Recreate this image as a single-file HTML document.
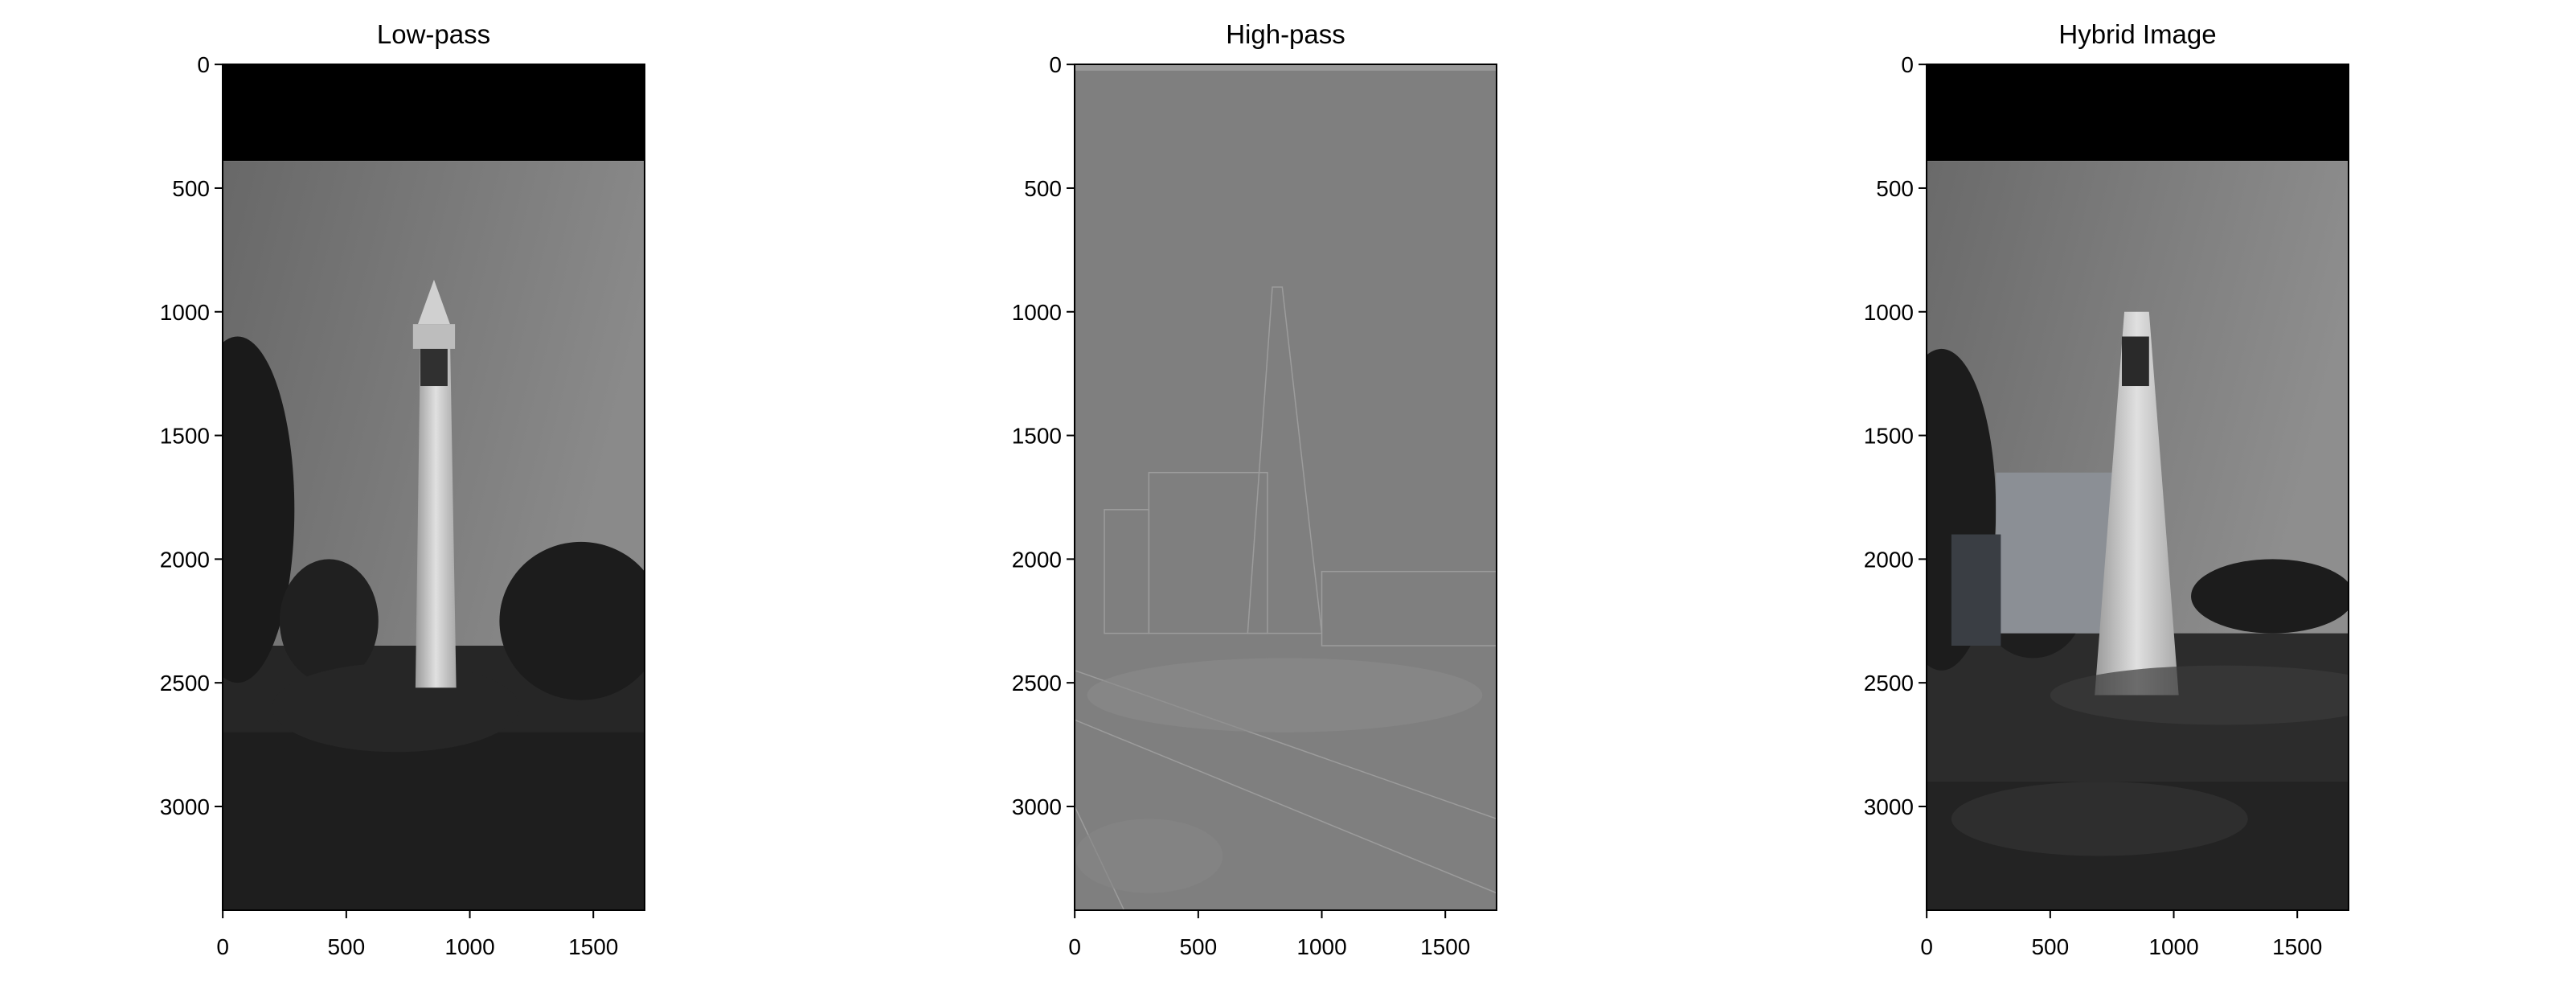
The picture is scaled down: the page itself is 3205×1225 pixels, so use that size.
<!DOCTYPE html>
<html><head><meta charset="utf-8">
<style>
html,body{margin:0;padding:0;background:#fff;}
svg{display:block;font-family:"Liberation Sans","DejaVu Sans",sans-serif;}
</style></head>
<body>
<svg id="fig" width="3205" height="1225" viewBox="0 0 3205 1225" xmlns="http://www.w3.org/2000/svg">
<defs id="defs">
<linearGradient id="sky1" x1="0" y1="0" x2="1" y2="0.3"><stop offset="0" stop-color="#686868"/><stop offset="1" stop-color="#8a8a8a"/></linearGradient>
<linearGradient id="sky3" x1="0" y1="0" x2="1" y2="0.3"><stop offset="0" stop-color="#6a6a6a"/><stop offset="1" stop-color="#8e8e8e"/></linearGradient>
<linearGradient id="tower" x1="0" y1="0" x2="1" y2="0"><stop offset="0" stop-color="#9a9a9a"/><stop offset="0.5" stop-color="#e0e0e0"/><stop offset="1" stop-color="#a8a8a8"/></linearGradient>
</defs>
<g id="panels"></g>
</svg>
<script>
// image extents (data units) and axis ticks
const imgWidth = 1708;
const imgHeight = 3420;
const xTicks = [0, 500, 1000, 1500];
const yTicks = [0, 500, 1000, 1500, 2000, 2500, 3000];
const titles = ["Low-pass", "High-pass", "Hybrid Image"];
const panelLefts = [277, 1337, 2397];
const axTop = 80, axW = 525, axH = 1052;

const NS = "http://www.w3.org/2000/svg";
const root = document.getElementById("panels");
const defs = document.getElementById("defs");
function mk(tag, attrs, parent){ const e=document.createElementNS(NS,tag); for(const k in attrs) e.setAttribute(k,attrs[k]); parent.appendChild(e); return e; }

titles.forEach((t, i) => {
  const L = panelLefts[i];
  const sx = v => L + (v + 0.5) / imgWidth * axW;
  const sy = v => axTop + (v + 0.5) / imgHeight * axH;
  const cp = mk("clipPath", {id:"clip"+i}, defs);
  mk("rect",{x:L,y:axTop,width:axW,height:axH},cp);
  const g = mk("g", {}, root);
  
  
  const img = mk("g", {"clip-path":"url(#clip"+i+")"}, g);
  
  
  const R = (x0,y0,x1,y1,fill,extra) => mk("rect", Object.assign({x:sx(x0), y:sy(y0), width:sx(x1)-sx(x0), height:sy(y1)-sy(y0), fill:fill}, extra||{}), img);
  const E = (cx,cy,rx,ry,fill,op) => mk("ellipse",{cx:sx(cx),cy:sy(cy),rx:rx/imgWidth*axW,ry:ry/imgHeight*axH,fill:fill,opacity:op==null?1:op},img);
  if (i === 0) {
    R(0,0,1708,390,"#000");
    R(0,390,1708,2450,"url(#sky1)");
    R(0,2350,1708,3420,"#262626");
    R(0,2700,1708,3420,"#1e1e1e");
    E(60,1800,230,700,"#1a1a1a");
    E(430,2250,200,250,"#202020");
    E(1450,2250,330,320,"#1c1c1c");
    E(700,2600,500,180,"#262626");
    mk("polygon",{points:`${sx(780)},${sy(2520)} ${sx(800)},${sy(1100)} ${sx(920)},${sy(1100)} ${sx(945)},${sy(2520)}`,fill:"url(#tower)"},img);
    R(770,1050,940,1150,"#bdbdbd");
    R(800,1150,910,1300,"#303030");
    mk("polygon",{points:`${sx(790)},${sy(1050)} ${sx(855)},${sy(870)} ${sx(920)},${sy(1050)}`,fill:"#d0d0d0"},img);
  } else if (i === 1) {
    R(0,0,1708,3420,"#7f7f7f");
    R(0,0,1708,25,"#9a9a9a");
    const ln = {fill:"none",stroke:"#9c9c9c","stroke-width":1.5};
    mk("polygon",Object.assign({points:`${sx(700)},${sy(2300)} ${sx(800)},${sy(900)} ${sx(840)},${sy(900)} ${sx(1000)},${sy(2300)}`},ln),img);
    R(300,1650,780,2300,"none",ln); R(120,1800,300,2300,"none",ln);
    R(1000,2050,1708,2350,"none",ln);
    mk("path",Object.assign({d:`M${sx(0)},${sy(2450)} L${sx(1708)},${sy(3050)} M${sx(0)},${sy(2650)} L${sx(1708)},${sy(3350)} M${sx(200)},${sy(3420)} L${sx(0)},${sy(3000)}`},ln),img);
    E(850,2550,800,150,"#8a8a8a",0.6);
    E(300,3200,300,150,"#858585",0.6);
  } else {
    R(0,0,1708,390,"#000");
    R(0,390,1708,2400,"url(#sky3)");
    R(0,2300,1708,3420,"#2c2c2c");
    R(0,2900,1708,3420,"#232323");
    E(60,1800,220,650,"#1c1c1c");
    E(430,2200,200,200,"#1e1e1e");
    E(1400,2150,330,150,"#1c1c1c");
    R(280,1650,780,2300,"#8b8f95");
    R(100,1900,300,2350,"#3a3e44");
    mk("polygon",{points:`${sx(680)},${sy(2550)} ${sx(800)},${sy(1000)} ${sx(900)},${sy(1000)} ${sx(1020)},${sy(2550)}`,fill:"url(#tower)"},img);
    R(790,1100,900,1300,"#2a2a2a");
    E(1200,2550,700,120,"#3a3a3a",0.7);
    E(700,3050,600,150,"#333",0.7);
  }
  const fr = mk("rect",{x:L,y:axTop,width:axW,height:axH,fill:"none",stroke:"#000","stroke-width":2},g);
  
  
  const tt = mk("text",{x:L+axW/2,y:54,"text-anchor":"middle","font-size":33,fill:"#000"},g);
  tt.textContent = t;
  
  
  xTicks.forEach(v => {
    const x = sx(v);
    const tk = mk("line",{x1:x,y1:axTop+axH,x2:x,y2:axTop+axH+10,stroke:"#000","stroke-width":2},g);
    
    
    const lb = mk("text",{x:x,y:1187,"text-anchor":"middle","font-size":28,fill:"#000"},g);
    lb.textContent = v;
    
    
  });
  yTicks.forEach(v => {
    const y = sy(v);
    const tk = mk("line",{x1:L-10,y1:y,x2:L,y2:y,stroke:"#000","stroke-width":2},g);
    
    
    const lb = mk("text",{x:L-16,y:y+10,"text-anchor":"end","font-size":28,fill:"#000"},g);
    lb.textContent = v;
    
    
  });
});
</script>
</body></html>
